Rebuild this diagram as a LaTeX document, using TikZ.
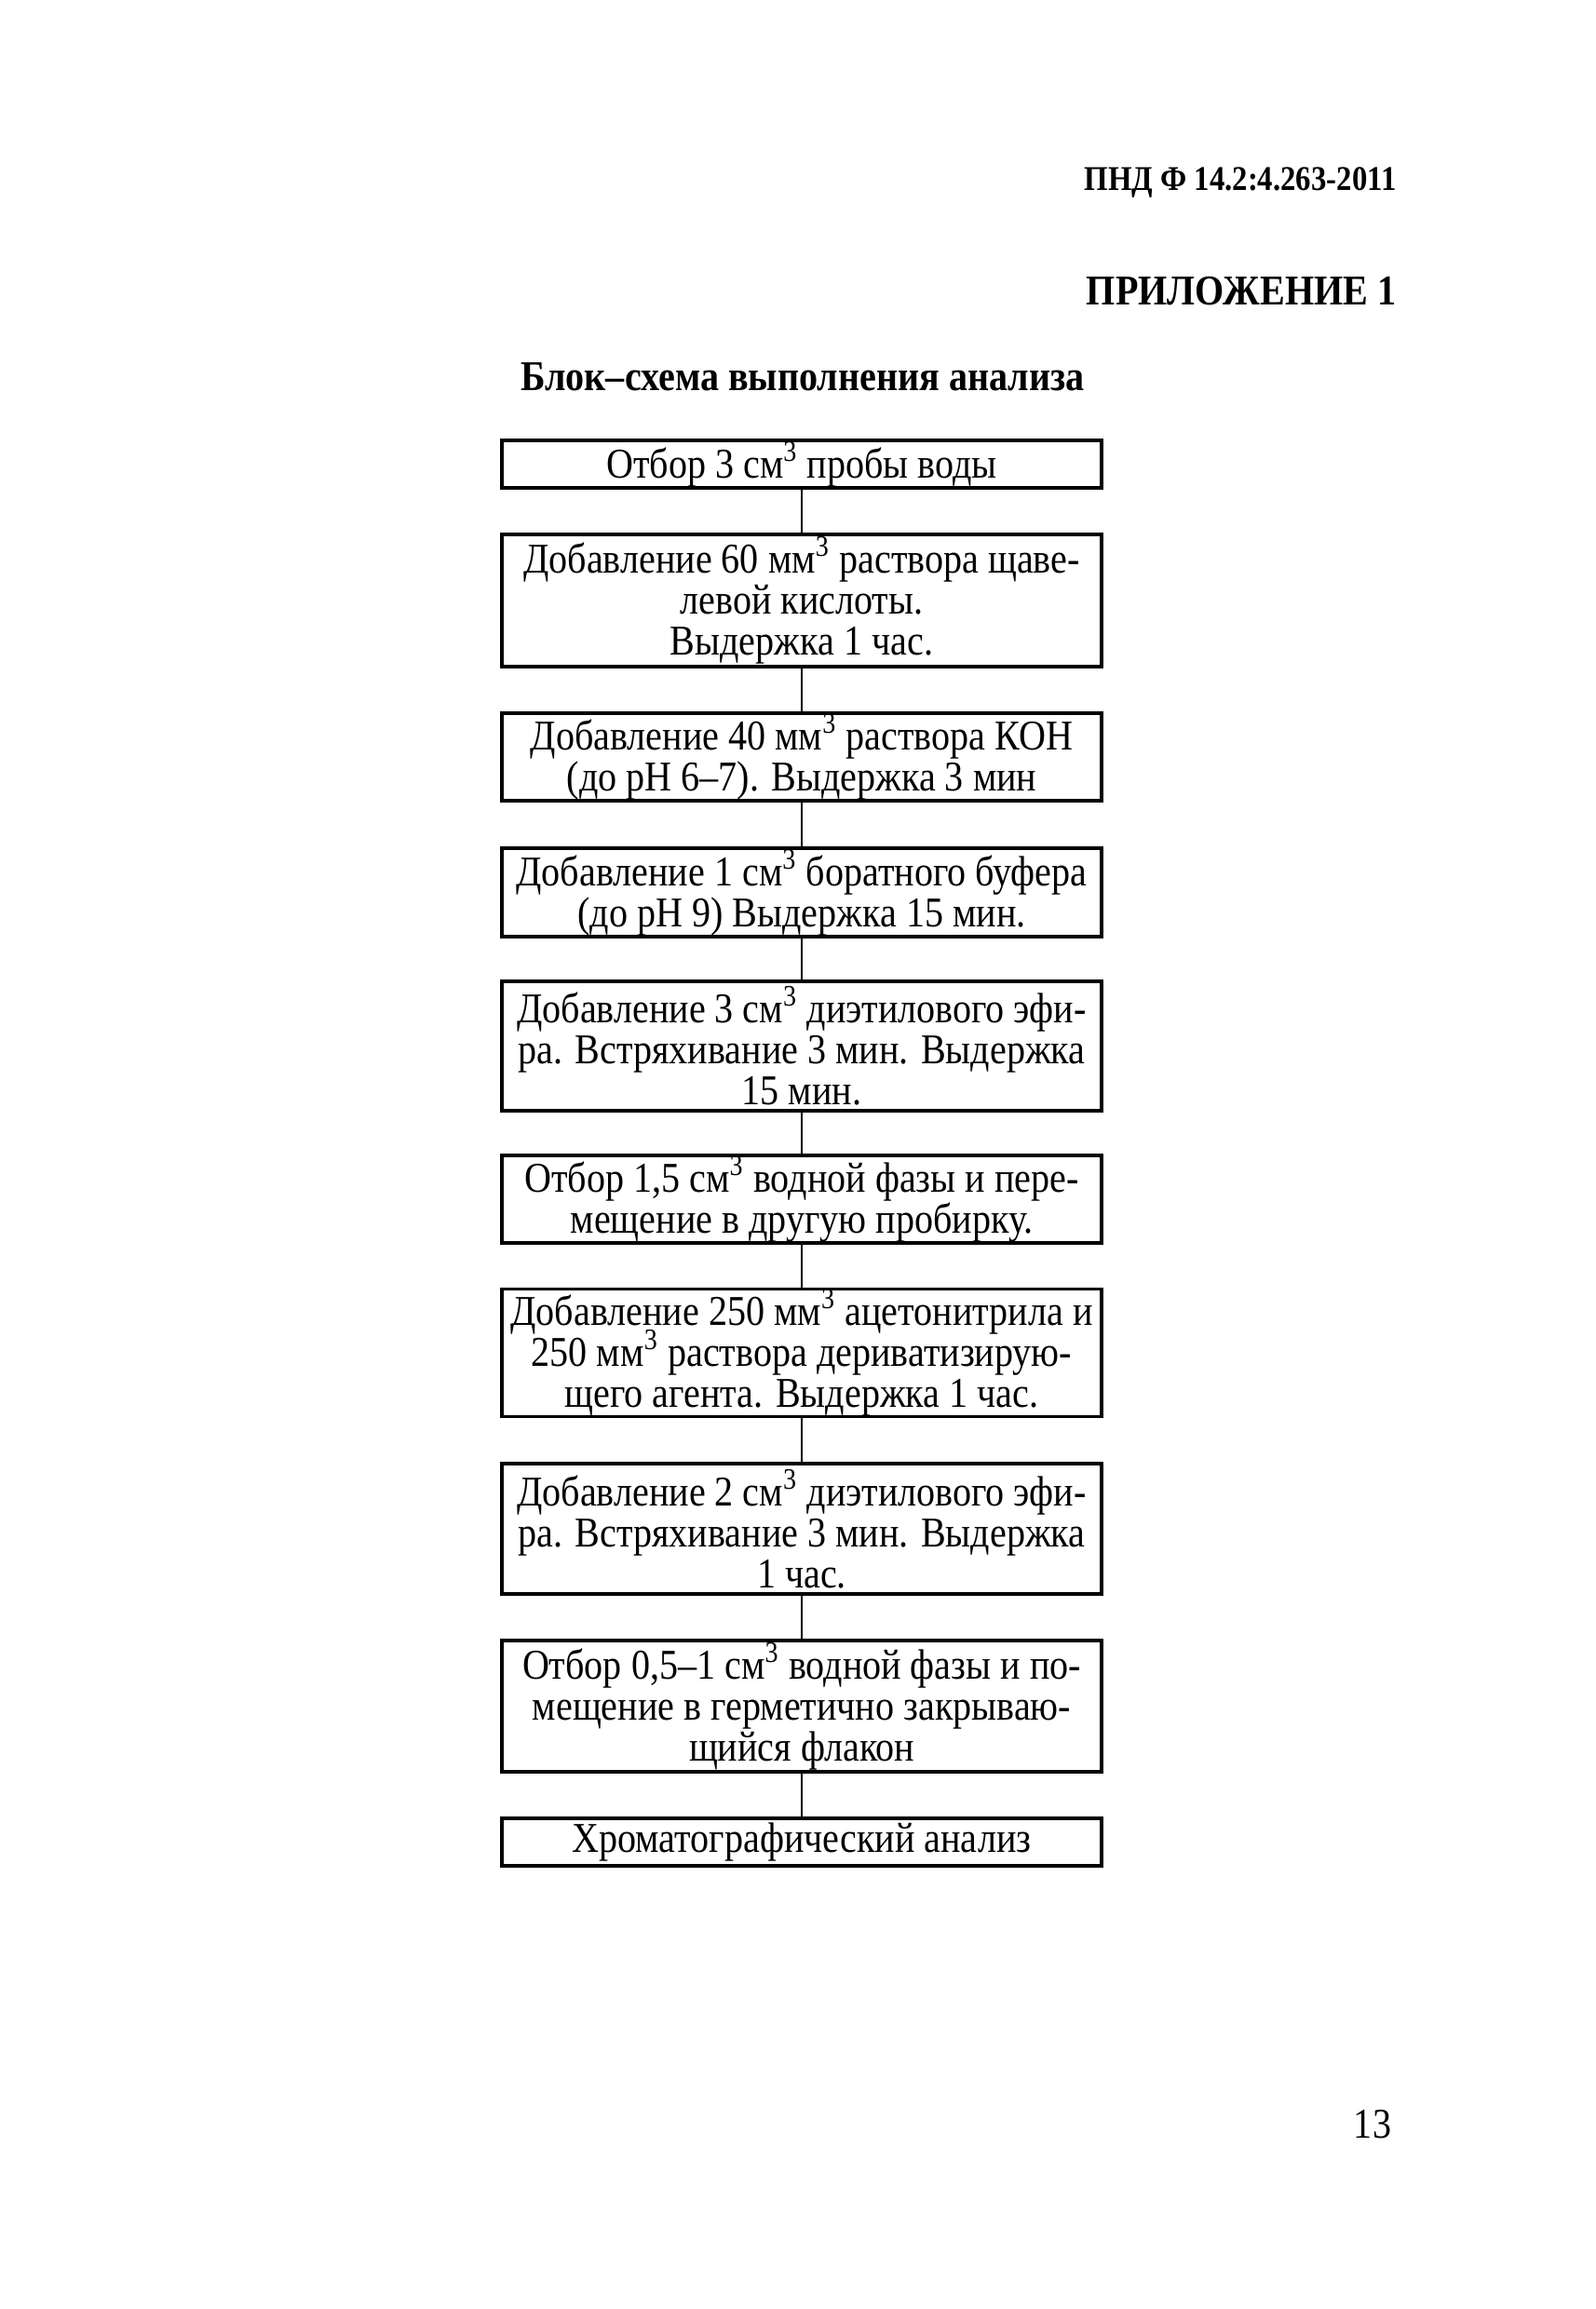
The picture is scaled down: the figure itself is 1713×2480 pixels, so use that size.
\documentclass[tikz,border=0pt]{standalone}
\usepackage{fontspec}
\setmainfont[FakeStretch=0.88]{Liberation Serif}
\newcommand\myc{\textsuperscript{3}}
\newcommand\myboxfont{\fontsize{15.9}{15.4}\selectfont\lineskiplimit=-20pt\relax}
\begin{document}
\begin{tikzpicture}[x=0.1226mm,y=-0.1226mm,
  box/.style={draw,line width=1.2pt,inner sep=0pt,minimum width=644*0.1226mm,align=center,
    font=\myboxfont},
  link/.style={line width=0.8pt},
  hdr/.style={inner sep=0pt,font=\fontsize{15.9}{17}\selectfont\bfseries}]
\useasboundingbox (0,0) rectangle (1713,2480);
\node[hdr,anchor=east,font=\fontsize{13}{15}\selectfont\bfseries] (code) at (1500,196) {ПНД Ф 14.2:4.263-2011};
\node[hdr,anchor=east] (app) at (1500,313) {ПРИЛОЖЕНИЕ 1};
\node[hdr] (title) at (862,405) {Блок–схема выполнения анализа};

\node[box,minimum height=51*0.1226mm] (b1) at (861,498.5) {Отбор 3 см\myc{} пробы воды};
\node[box,minimum height=142*0.1226mm] (b2) at (861,645) {Добавление 60 мм\myc{} раствора щаве-\\левой кислоты.\\Выдержка 1 час.};
\node[box,minimum height=94*0.1226mm] (b3) at (861,813) {Добавление 40 мм\myc{} раствора КОН\\(до рН 6–7). Выдержка 3 мин};
\node[box,minimum height=95*0.1226mm] (b4) at (861,958.5) {Добавление 1 см\myc{} боратного буфера\\(до рН 9) Выдержка 15 мин.};
\node[box,minimum height=139*0.1226mm] (b5) at (861,1123.5) {Добавление 3 см\myc{} диэтилового эфи-\\ра. Встряхивание 3 мин. Выдержка\\15 мин.};
\node[box,minimum height=94*0.1226mm] (b6) at (861,1288) {Отбор 1,5 см\myc{} водной фазы и пере-\\мещение в другую пробирку.};
\node[box,minimum height=136*0.1226mm] (b7) at (861,1453) {Добавление 250 мм\myc{} ацетонитрила и\\250 мм\myc{} раствора дериватизирую-\\щего агента. Выдержка 1 час.};
\node[box,minimum height=140*0.1226mm] (b8) at (861,1642) {Добавление 2 см\myc{} диэтилового эфи-\\ра. Встряхивание 3 мин. Выдержка\\1 час.};
\node[box,minimum height=141*0.1226mm] (b9) at (861,1832.5) {Отбор 0,5–1 см\myc{} водной фазы и по-\\мещение в герметично закрываю-\\щийся флакон};
\node[box,minimum height=51*0.1226mm] (b10) at (861,1978.5) {Хроматографический анализ};

\foreach \a/\b in {b1/b2,b2/b3,b3/b4,b4/b5,b5/b6,b6/b7,b7/b8,b8/b9,b9/b10}
  \draw[link] (\a.south) -- (\b.north);

\node[inner sep=0pt,font=\fontsize{15.9}{17}\selectfont] (page) at (1474,2282) {13};
\end{tikzpicture}
\end{document}
